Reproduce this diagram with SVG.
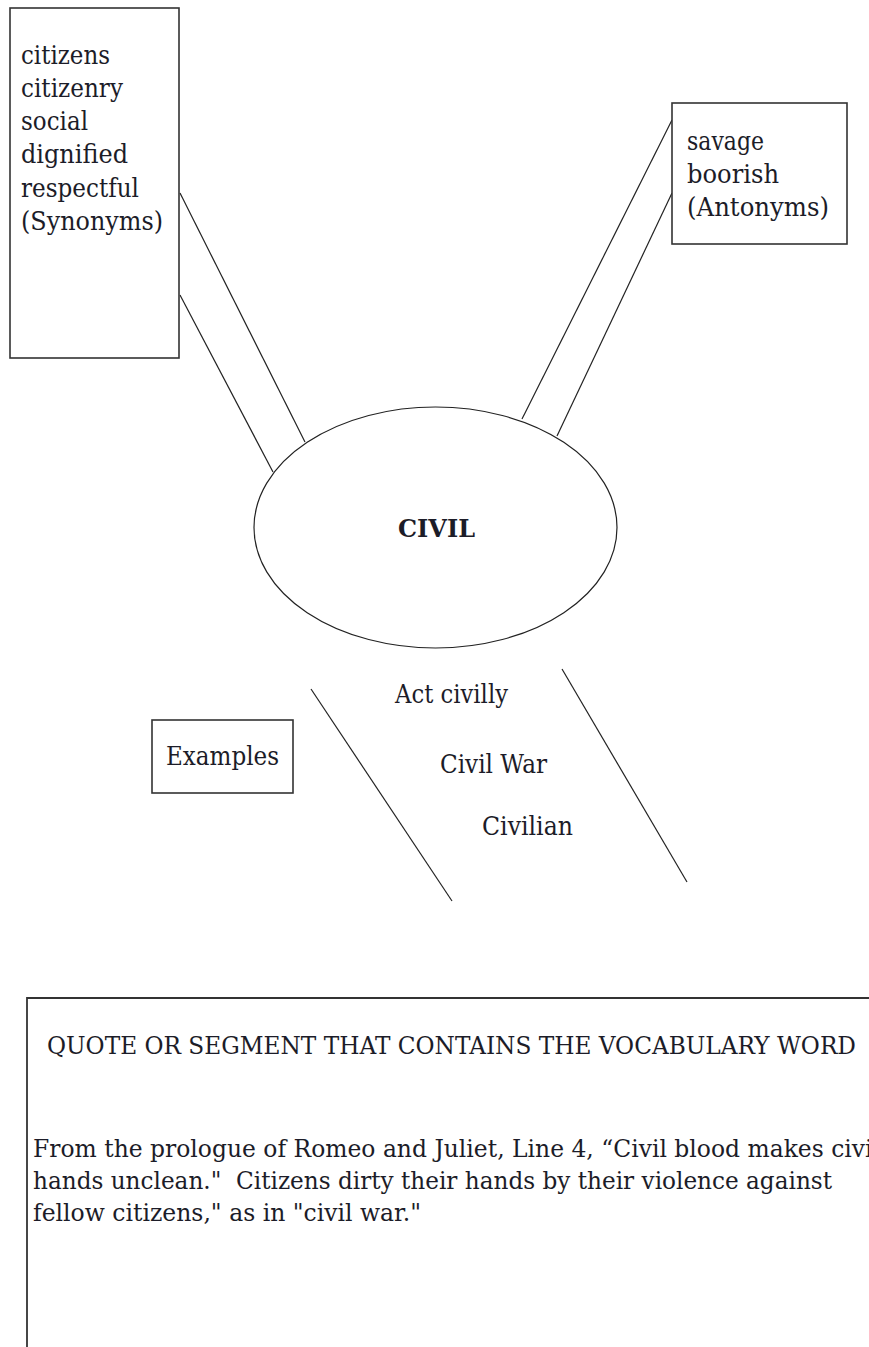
<svg xmlns="http://www.w3.org/2000/svg" width="869" height="1347" viewBox="0 0 869 1347">
<style>
.box{fill:#fff;stroke:#333;stroke-width:1.6}
.conn{stroke:#222;stroke-width:1.2;fill:none}
.t{font-family:"DejaVu Serif","Liberation Serif",serif;font-size:26px;fill:#1c1c28}
.q{font-family:"DejaVu Serif","Liberation Serif",serif;font-size:24px;fill:#1c1c28}
.b{font-weight:bold;font-size:25px}
</style>
<rect width="869" height="1347" fill="#fff"/>
<g id="connectors">
<line class="conn" x1="180" y1="193" x2="305" y2="442"/>
<line class="conn" x1="180" y1="295" x2="273" y2="472"/>
<line class="conn" x1="672" y1="120" x2="522" y2="419"/>
<line class="conn" x1="672" y1="193" x2="557" y2="436"/>
<line class="conn" x1="311" y1="689" x2="452" y2="901"/>
<line class="conn" x1="562" y1="669" x2="687" y2="882"/>
</g>
<g id="synonyms">
<rect class="box" x="10" y="8" width="169" height="350"/>
<text class="t" x="21" y="64" textLength="89" lengthAdjust="spacingAndGlyphs">citizens</text>
<text class="t" x="21" y="97" textLength="102" lengthAdjust="spacingAndGlyphs">citizenry</text>
<text class="t" x="21" y="130" textLength="67" lengthAdjust="spacingAndGlyphs">social</text>
<text class="t" x="21" y="163" textLength="107" lengthAdjust="spacingAndGlyphs">dignified</text>
<text class="t" x="21" y="197" textLength="118" lengthAdjust="spacingAndGlyphs">respectful</text>
<text class="t" x="21" y="230" textLength="142" lengthAdjust="spacingAndGlyphs">(Synonyms)</text>
</g>
<g id="antonyms">
<rect class="box" x="672" y="103" width="175" height="141"/>
<text class="t" x="687" y="150" textLength="77" lengthAdjust="spacingAndGlyphs">savage</text>
<text class="t" x="687" y="183" textLength="92" lengthAdjust="spacingAndGlyphs">boorish</text>
<text class="t" x="687" y="216" textLength="142" lengthAdjust="spacingAndGlyphs">(Antonyms)</text>
</g>
<g id="civil">
<ellipse cx="435.5" cy="527.5" rx="181.5" ry="120.5" fill="#fff" stroke="#222" stroke-width="1.2"/>
<text class="t b" x="436.5" y="537" text-anchor="middle" textLength="77" lengthAdjust="spacingAndGlyphs">CIVIL</text>
</g>
<g id="examples">
<rect class="box" x="152" y="720" width="141" height="73"/>
<text class="t" x="166" y="765" textLength="113" lengthAdjust="spacingAndGlyphs">Examples</text>
</g>
<g id="example-items">
<text class="t" x="395" y="703" textLength="113" lengthAdjust="spacingAndGlyphs">Act civilly</text>
<text class="t" x="440" y="773" textLength="107" lengthAdjust="spacingAndGlyphs">Civil War</text>
<text class="t" x="482" y="835" textLength="91" lengthAdjust="spacingAndGlyphs">Civilian</text>
</g>
<g id="quote">
<path d="M27,1347 V998 H869" fill="none" stroke="#333" stroke-width="1.8"/>
<text class="q" x="47" y="1054" textLength="809" lengthAdjust="spacingAndGlyphs">QUOTE OR SEGMENT THAT CONTAINS THE VOCABULARY WORD</text>
<text class="q" x="33" y="1157" textLength="847" lengthAdjust="spacingAndGlyphs">From the prologue of Romeo and Juliet, Line 4, “Civil blood makes civil</text>
<text class="q" x="33" y="1189" textLength="799" lengthAdjust="spacingAndGlyphs" xml:space="preserve">hands unclean."  Citizens dirty their hands by their violence against</text>
<text class="q" x="33" y="1221" textLength="388" lengthAdjust="spacingAndGlyphs">fellow citizens," as in "civil war."</text>
</g>
</svg>
